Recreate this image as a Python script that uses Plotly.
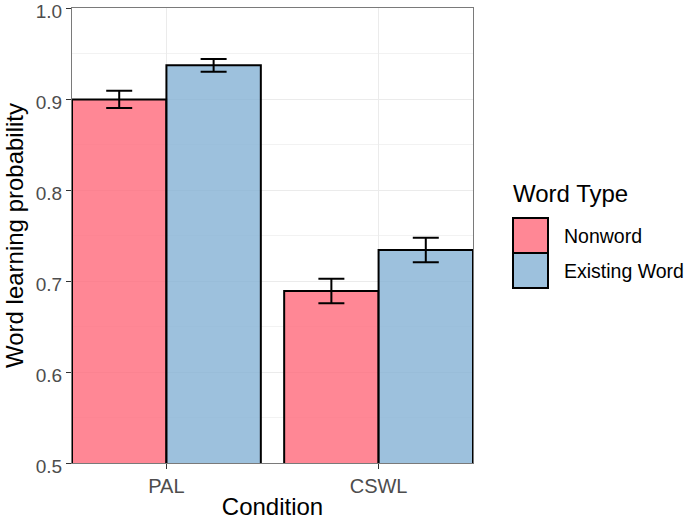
import plotly.graph_objects as go

# data
conditions = ["PAL", "CSWL"]
word_types = ["Nonword", "Existing Word"]
means = {
    "Nonword": [0.8995, 0.689],
    "Existing Word": [0.937, 0.734],
}
errors = {
    "Nonword": [0.0095, 0.0135],
    "Existing Word": [0.007, 0.0135],
}
fills = {
    "Nonword": "rgba(255,105,122,0.8)",
    "Existing Word": "rgba(133,178,213,0.8)",
}

W, H = 685, 520
L, R, T, B = 72, 473, 8, 463  # panel box in pixels


def px_x(x):
    return (x - L) / (R - L)


def px_y(y):
    return (B - y) / (B - T)


fig = go.Figure()
for wt in word_types:
    fig.add_trace(go.Bar(
        x=conditions,
        y=means[wt],
        name=wt,
        marker=dict(color=fills[wt], line=dict(color="black", width=2)),
        error_y=dict(type="data", array=errors[wt], color="black",
                     thickness=2, width=13),
        showlegend=False,
    ))

# legend drawn by hand so the keys are as large as in ggplot
shapes = []
annotations = []
key_top = 218
key_h = 35
for i, wt in enumerate(word_types):
    y0 = key_top + i * key_h
    shapes.append(dict(
        type="rect", xref="paper", yref="paper",
        x0=px_x(513), x1=px_x(548), y0=px_y(y0 + key_h), y1=px_y(y0),
        fillcolor=fills[wt], line=dict(color="black", width=2),
    ))
    annotations.append(dict(
        xref="paper", yref="paper", x=px_x(562), y=px_y(y0 + key_h / 2),
        text=wt, showarrow=False, xanchor="left", yanchor="middle",
        font=dict(size=19.5, color="black"),
    ))
annotations.append(dict(
    xref="paper", yref="paper", x=px_x(511), y=px_y(193),
    text="Word Type", showarrow=False, xanchor="left", yanchor="middle",
    font=dict(size=24, color="black"),
))

fig.update_layout(
    width=W, height=H,
    margin=dict(l=L, r=W - R, t=T, b=H - B),
    paper_bgcolor="white", plot_bgcolor="white",
    font=dict(family="Liberation Sans, Arial, sans-serif", color="black"),
    barmode="group", bargap=0.11, bargroupgap=0,
    shapes=shapes, annotations=annotations,
)
fig.update_xaxes(
    range=[-0.445, 1.445], automargin=False,
    showgrid=True, gridcolor="#EBEBEB", gridwidth=1.2,
    showline=True, linecolor="#7A7A7A", linewidth=1, mirror=True,
    ticks="outside", ticklen=5, tickcolor="#333333", tickwidth=1.2,
    tickfont=dict(size=20, color="#4D4D4D"),
    title=dict(text="Condition", font=dict(size=24), standoff=4),
)
fig.update_yaxes(
    range=[0.5, 1.0], automargin=False, ticklabeloverflow="allow",
    ticklabelshift=3,
    tickvals=[0.5, 0.6, 0.7, 0.8, 0.9, 1.0],
    ticktext=["0.5", "0.6", "0.7", "0.8", "0.9", "1.0"],
    showgrid=True, gridcolor="#EBEBEB", gridwidth=1.2,
    minor=dict(tickvals=[0.55, 0.65, 0.75, 0.85, 0.95], showgrid=True,
               gridcolor="#F2F2F2", gridwidth=0.6),
    showline=True, linecolor="#7A7A7A", linewidth=1, mirror=True,
    ticks="outside", ticklen=5, tickcolor="#333333", tickwidth=1.2,
    tickfont=dict(size=19, color="#4D4D4D"),
    title=dict(text="Word learning probability", font=dict(size=24), standoff=5),
    zeroline=False,
)

# the page's default 8px body margin would shift the whole figure
fig.write_html("out.html", config={"displayModeBar": False},
               post_script="document.body.style.margin='0';")
